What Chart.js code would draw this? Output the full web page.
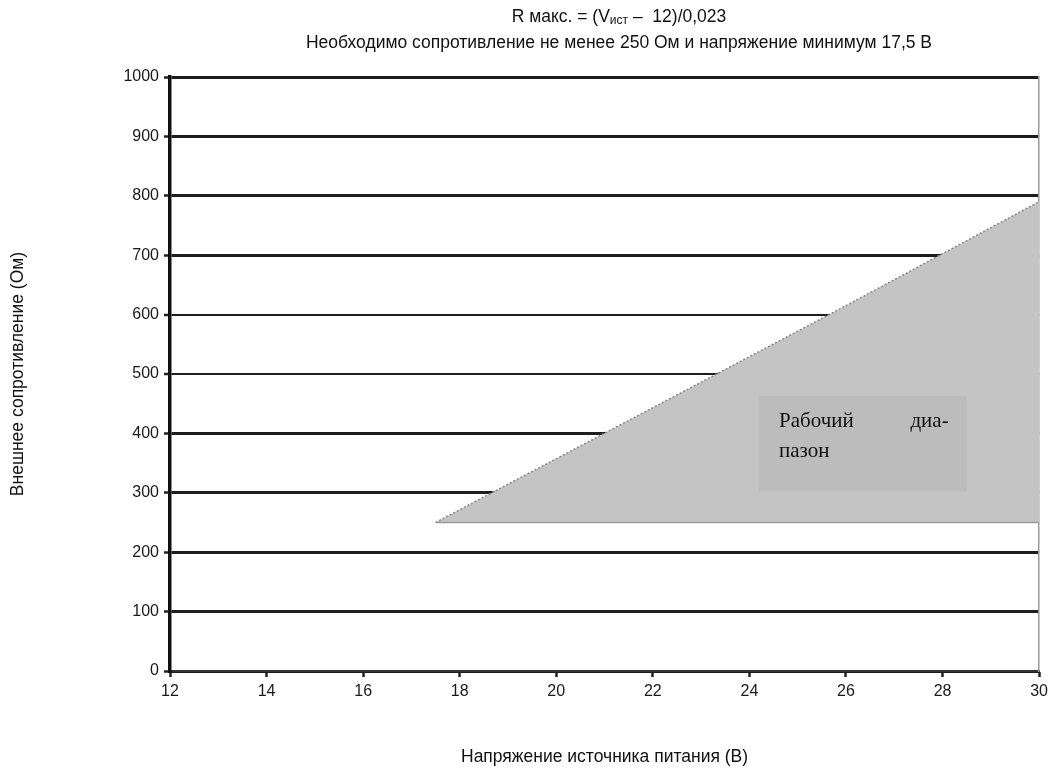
<!DOCTYPE html>
<html>
<head>
<meta charset="utf-8">
<script src="https://cdn.jsdelivr.net/npm/chart.js@4.4.1/dist/chart.umd.min.js"></script>
<style>
  body { margin: 0; background: #fff; }
  #wrap { width: 1053px; height: 776px; }
</style>
</head>
<body>
<div id="wrap"><canvas id="loadChart"></canvas></div>
<script>
// values
var voltage = [17.5, 26, 30];          // В
var rLower = [250, 250, 250];          // Ом, min load
var rUpper = [250, 615, 790];          // Ом, R max line
var xTicks = [12, 14, 16, 18, 20, 22, 24, 26, 28, 30];
var yTicks = [0, 100, 200, 300, 400, 500, 600, 700, 800, 900, 1000];

var titleLine1 = ["R макс. = (V", "ист", " –  12)/0,023"];
var titleLine2 = "Необходимо сопротивление не менее 250 Ом и напряжение минимум 17,5 В";
var rangeLabel = ["Рабочий", "диа-", "пазон"];

function toPoints(xs, ys) {
  return xs.map(function (x, i) { return { x: x, y: ys[i] }; });
}

// two line title with a subscript in the formula
var formulaTitle = {
  id: "formulaTitle",
  afterDraw: function (chart) {
    var ctx = chart.ctx;
    var cx = 619;
    ctx.save();
    ctx.fillStyle = "#111";
    ctx.textBaseline = "middle";
    var big = "17.5px 'Liberation Sans', Arial, sans-serif";
    var small = "12px 'Liberation Sans', Arial, sans-serif";
    ctx.font = big;
    var w0 = ctx.measureText(titleLine1[0]).width;
    var w2 = ctx.measureText(titleLine1[2]).width;
    ctx.font = small;
    var w1 = ctx.measureText(titleLine1[1]).width;
    var x = cx - (w0 + w1 + w2) / 2;
    ctx.textAlign = "left";
    ctx.font = big;
    ctx.fillText(titleLine1[0], x, 17);
    ctx.font = small;
    ctx.fillText(titleLine1[1], x + w0, 21);
    ctx.font = big;
    ctx.fillText(titleLine1[2], x + w0 + w1, 17);
    ctx.textAlign = "center";
    ctx.fillText(titleLine2, cx, 43);
    ctx.restore();
  }
};

// the grey note box inside the working range
var rangeNote = {
  id: "rangeNote",
  afterDatasetsDraw: function (chart) {
    var ctx = chart.ctx;
    var sx = chart.scales.x, sy = chart.scales.y;
    var l = sx.getPixelForValue(24.2), r = sx.getPixelForValue(28.5);
    var t = sy.getPixelForValue(463), b = sy.getPixelForValue(302);
    ctx.save();
    ctx.fillStyle = "#bcbcbc";
    ctx.fillRect(l, t, r - l, b - t);
    ctx.fillStyle = "#111";
    ctx.font = "21px 'Liberation Serif', 'Times New Roman', serif";
    ctx.textBaseline = "middle";
    ctx.textAlign = "left";
    ctx.fillText(rangeLabel[0], l + 20, t + 26);
    ctx.textAlign = "right";
    ctx.fillText(rangeLabel[1], r - 18, t + 26);
    ctx.textAlign = "left";
    ctx.fillText(rangeLabel[2], l + 20, t + 56);
    ctx.restore();
  }
};

var tickFont = { family: "'Liberation Sans', Arial, sans-serif", size: 16 };
var titleFont = { family: "'Liberation Sans', Arial, sans-serif", size: 17.5 };

new Chart(document.getElementById("loadChart"), {
  type: "line",
  data: {
    datasets: [{
      data: toPoints(voltage, rLower),
      borderColor: "#9a9a9a",
      borderWidth: 1.5,
      pointRadius: 0,
      fill: false
    }, {
      data: toPoints(voltage, rUpper),
      borderColor: "#858585",
      borderWidth: 1.5,
      borderDash: [2, 2],
      pointRadius: 0,
      backgroundColor: "#c4c4c4",
      fill: "-1"
    }]
  },
  options: {
    responsive: true,
    maintainAspectRatio: false,
    animation: false,
    layout: { padding: { top: 77, left: 8, right: 0, bottom: 8 } },
    plugins: {
      legend: { display: false },
      tooltip: { enabled: false }
    },
    scales: {
      x: {
        type: "linear",
        min: 12,
        max: 30,
        afterBuildTicks: function (scale) {
          scale.ticks = xTicks.map(function (v) { return { value: v }; });
        },
        afterFit: function (scale) { scale.height = 97; },
        grid: {
          drawOnChartArea: false,
          drawTicks: true,
          tickLength: 6,
          tickWidth: 2.5,
          tickColor: "#222"
        },
        border: { color: "#333", width: 2 },
        ticks: {
          font: tickFont, color: "#1a1a1a", padding: 5, maxRotation: 0,
          callback: function (v) { return String(v); }
        },
        title: {
          display: true,
          text: "Напряжение источника питания (В)",
          font: titleFont,
          color: "#111",
          padding: { top: 4, bottom: 0 }
        }
      },
      y: {
        min: 0,
        max: 1000,
        afterBuildTicks: function (scale) {
          scale.ticks = yTicks.map(function (v) { return { value: v }; });
        },
        afterFit: function (scale) { scale.width = 162; },
        grid: {
          color: "#1e1e1e",
          lineWidth: function (c) {
            if (!c.tick) return 3;
            if (c.tick.value === 500 || c.tick.value === 600) return 2;
            return 3;
          },
          tickLength: 6,
          tickWidth: 2.5,
          tickColor: "#222"
        },
        border: { color: "#111", width: 3.5 },
        ticks: {
          font: tickFont, color: "#1a1a1a", padding: 5,
          callback: function (v) { return String(v); }
        },
        title: {
          display: true,
          text: "Внешнее сопротивление (Ом)",
          font: titleFont,
          color: "#111",
          padding: { top: 0, bottom: 0 }
        }
      },
      // thin grey frame line on the right
      yRight: {
        position: "right",
        min: 0,
        max: 1000,
        afterFit: function (scale) { scale.width = 0; },
        grid: { drawOnChartArea: false, drawTicks: false },
        border: { color: "#9a9a9a", width: 1.5 },
        ticks: { display: false }
      }
    }
  },
  plugins: [formulaTitle, rangeNote]
});
</script>
</body>
</html>
